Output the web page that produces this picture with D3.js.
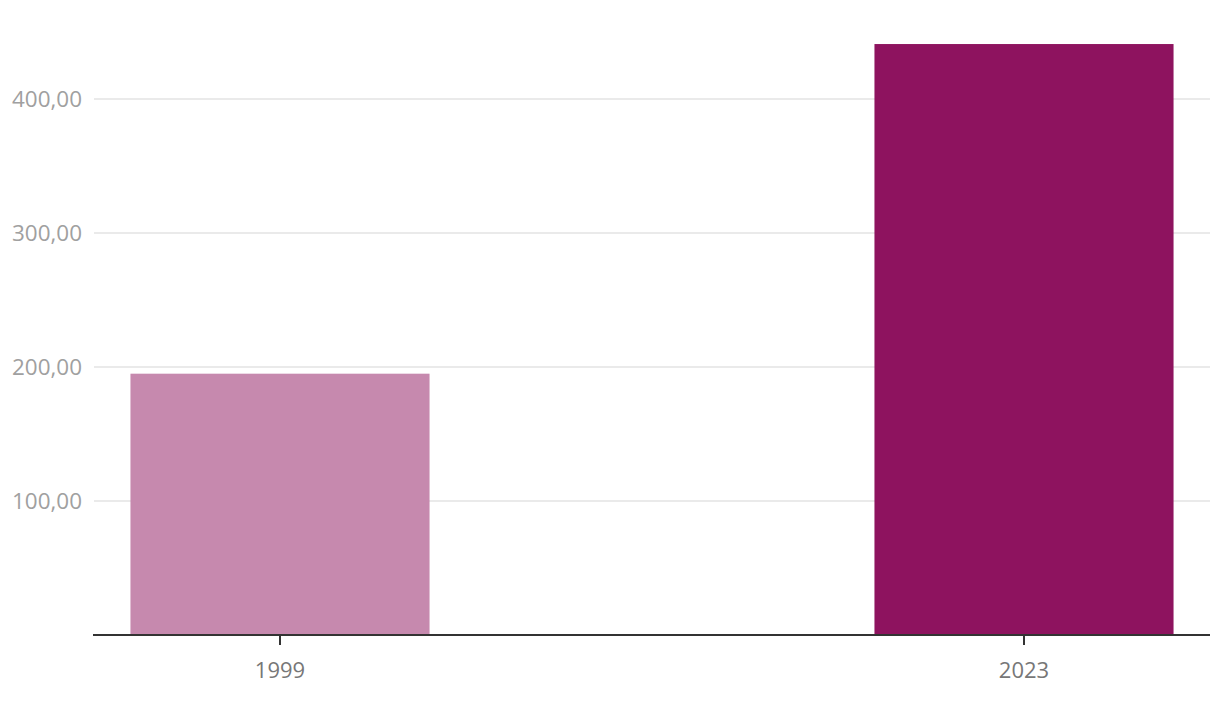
<!DOCTYPE html>
<html><head><meta charset="utf-8">
<script src="https://cdn.jsdelivr.net/npm/d3@7"></script>
<style>body{margin:0;background:#fff;} svg{display:block;font-family:"Open Sans",sans-serif;}</style>
</head><body>
<svg id="c" width="1220" height="708"></svg>
<script>
const categories = ["1999", "2023"];
const values = [195, 441];
const barColors = ["#c689ae", "#8e135f"];
const yTicks = [100, 200, 300, 400];

(function () {
const svg = d3.select("#c");
const mLeft = 94, mRight = 1210, mTop = 10, mBottom = 635;
const x = d3.scaleBand().domain(categories).range([mLeft, mRight]).paddingInner(0.598).paddingOuter(0.049);
const y = d3.scaleLinear().domain([0, 466.4]).range([mBottom, mTop]);
const fmt = v => d3.format(".2f")(v).replace(".", ",");

svg.append("g").selectAll("line").data(yTicks).join("line")
  .attr("x1", mLeft).attr("x2", mRight)
  .attr("y1", d => y(d)).attr("y2", d => y(d))
  .attr("stroke", "#e3e3e3").attr("stroke-width", 1.5);
svg.append("g").selectAll("text").data(yTicks).join("text")
  .attr("x", 82).attr("y", d => y(d)).attr("dy", "0.35em")
  .attr("text-anchor", "end").attr("fill", "#a0a0a0").attr("font-size", 22.5)
  .attr("textLength", 70).attr("lengthAdjust", "spacingAndGlyphs")
  .text(fmt);

svg.append("g").selectAll("rect").data(values).join("rect")
  .attr("x", (d, i) => x(categories[i])).attr("width", x.bandwidth())
  .attr("y", d => y(d)).attr("height", d => mBottom - y(d))
  .attr("fill", (d, i) => barColors[i]);

const xa = svg.append("g").attr("transform", `translate(0,${mBottom})`)
  .call(d3.axisBottom(x).tickSize(10).tickSizeOuter(0).tickPadding(17));
xa.select(".domain").attr("stroke", "#333").attr("stroke-width", 2).attr("d", `M${mLeft-1},0H${mRight}`);
xa.selectAll(".tick line").attr("stroke", "#333").attr("stroke-width", 2);
xa.selectAll(".tick text").attr("fill", "#777").attr("font-size", 22).attr("font-family", "Open Sans, sans-serif");
})();
</script>
</body></html>
